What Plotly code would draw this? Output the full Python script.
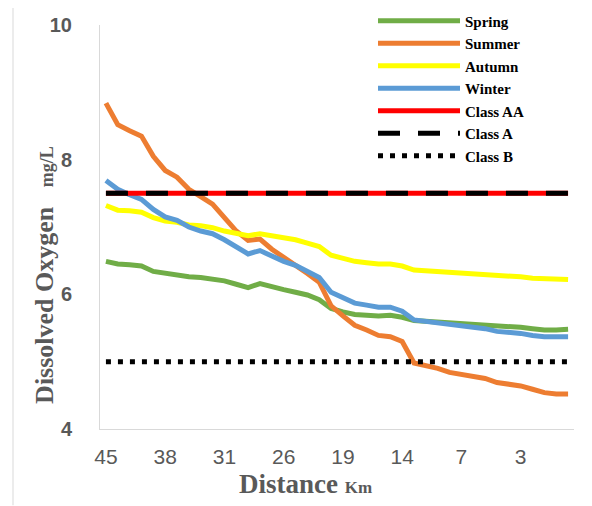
import plotly.graph_objects as go

# ---- data ----
tick_labels = ["45", "38", "31", "26", "19", "14", "7", "3"]
tick_positions = [0, 5, 10, 15, 20, 25, 30, 35]

spring = [6.49, 6.45, 6.44, 6.42, 6.34, 6.31, 6.28, 6.26, 6.25, 6.23,
          6.20, 6.15, 6.10, 6.16, 6.11, 6.07, 6.03, 5.99, 5.92, 5.79,
          5.74, 5.70, 5.69, 5.68, 5.69, 5.66, 5.61, 5.60, 5.59, 5.58,
          5.57, 5.56, 5.55, 5.53, 5.52, 5.51, 5.49, 5.47, 5.47, 5.48]
summer = [8.84, 8.52, 8.43, 8.35, 8.05, 7.84, 7.74, 7.56, 7.45, 7.34,
          7.14, 6.94, 6.80, 6.82, 6.67, 6.55, 6.45, 6.31, 6.18, 5.83,
          5.68, 5.54, 5.47, 5.39, 5.37, 5.30, 4.98, 4.94, 4.90, 4.84,
          4.81, 4.77, 4.75, 4.69, 4.67, 4.64, 4.59, 4.54, 4.52, 4.52]
autumn = [7.32, 7.25, 7.24, 7.22, 7.14, 7.09, 7.07, 7.03, 7.02, 6.99,
          6.94, 6.90, 6.87, 6.90, 6.87, 6.84, 6.81, 6.76, 6.71, 6.58,
          6.53, 6.49, 6.47, 6.45, 6.45, 6.42, 6.36, 6.35, 6.34, 6.33,
          6.32, 6.31, 6.30, 6.28, 6.27, 6.26, 6.24, 6.23, 6.22, 6.22]
winter = [7.69, 7.56, 7.48, 7.41, 7.26, 7.15, 7.10, 7.00, 6.94, 6.90,
          6.81, 6.70, 6.60, 6.65, 6.56, 6.49, 6.43, 6.33, 6.25, 6.03,
          5.95, 5.87, 5.84, 5.81, 5.81, 5.75, 5.62, 5.60, 5.58, 5.55,
          5.53, 5.51, 5.49, 5.45, 5.44, 5.42, 5.39, 5.37, 5.37, 5.37]
class_aa = 7.5
class_a = 7.5
class_b = 5.0

x = list(range(len(spring)))
x_ends = [x[0], x[-1]]

fig = go.Figure()
series = [("Spring", spring, "#70AD47"), ("Summer", summer, "#ED7D31"),
          ("Autumn", autumn, "#FFFF00"), ("Winter", winter, "#5B9BD5")]
for name, vals, col in series:
    fig.add_trace(go.Scatter(x=x, y=vals, mode="lines", name=name,
                             line=dict(color=col, width=5)))

fig.add_trace(go.Scatter(x=x_ends, y=[class_aa, class_aa], mode="lines", name="Class AA",
                         line=dict(color="#FF0000", width=5)))
fig.add_trace(go.Scatter(x=x_ends, y=[class_a, class_a], mode="lines", name="Class A",
                         line=dict(color="#000000", width=5, dash="22px,18px")))
fig.add_trace(go.Scatter(x=x_ends, y=[class_b, class_b], mode="lines", name="Class B",
                         line=dict(color="#000000", width=5, dash="5px,7px")))

# page body has an 8px margin; work in screen pixels
OFF = 8
SW, SH = 592, 506
W, H = SW - OFF, SH - OFF
plot_l, plot_r, plot_t, plot_b = 100, 574, 24.5, 429.5  # screen px
ml = plot_l - OFF
mt = plot_t - OFF
mr = W - (plot_r - OFF)
mb = H - (plot_b - OFF)
pw, ph = plot_r - plot_l, plot_b - plot_t

def px2x(p):
    return (p - plot_l) / pw

def px2y(p):
    return (plot_b - p) / ph

border = dict(color="#D9D9D9", width=1)

fig.update_layout(
    width=W, height=H,
    margin=dict(l=ml, r=mr, t=mt, b=mb, autoexpand=False),
    paper_bgcolor="white", plot_bgcolor="white",
    showlegend=True,
    legend=dict(x=px2x(373), y=px2y(4), xanchor="left", yanchor="top",
                font=dict(family="Liberation Serif", size=15, color="#000000", weight="bold"),
                itemwidth=82, bgcolor="rgba(0,0,0,0)", tracegroupgap=0),
    xaxis=dict(range=[-0.5, len(x) - 0.5], tickvals=tick_positions, ticktext=tick_labels,
               showgrid=False, zeroline=False, showline=True, linecolor="#D9D9D9",
               linewidth=1, ticks="", ticklabelstandoff=9,
               tickfont=dict(family="Liberation Sans", size=21, color="#595959")),
    yaxis=dict(range=[4, 10], tickvals=[4, 6, 8, 10], ticktext=["4", "6", "8", "10"],
               showgrid=False, zeroline=False, showline=True, linecolor="#D9D9D9",
               linewidth=1, ticks="", ticklabelstandoff=23,
               tickfont=dict(family="Liberation Sans", size=20, color="#595959", weight="bold")),
    annotations=[
        dict(text="<b>Dissolved Oxygen</b>&nbsp;&nbsp;&nbsp;<b><span style='font-size:18px'>mg/L</span></b>",
             xref="paper", yref="paper", x=px2x(45), y=px2y(275), textangle=-90,
             showarrow=False, xanchor="center", yanchor="middle",
             font=dict(family="Liberation Serif", size=26, color="#595959")),
        dict(text="<b>Distance</b> <b><span style='font-size:17px'>Km</span></b>",
             xref="paper", yref="paper", x=px2x(305), y=px2y(485),
             showarrow=False, xanchor="center", yanchor="middle",
             font=dict(family="Liberation Serif", size=27, color="#595959")),
    ],
    shapes=[
        dict(type="line", xref="paper", yref="paper", x0=px2x(13), x1=px2x(592),
             y0=px2y(4), y1=px2y(4), line=border, layer="below"),
        dict(type="line", xref="paper", yref="paper", x0=px2x(13), x1=px2x(13),
             y0=px2y(4), y1=px2y(506), line=border, layer="below"),
    ],
)

fig.write_html("out.html")
